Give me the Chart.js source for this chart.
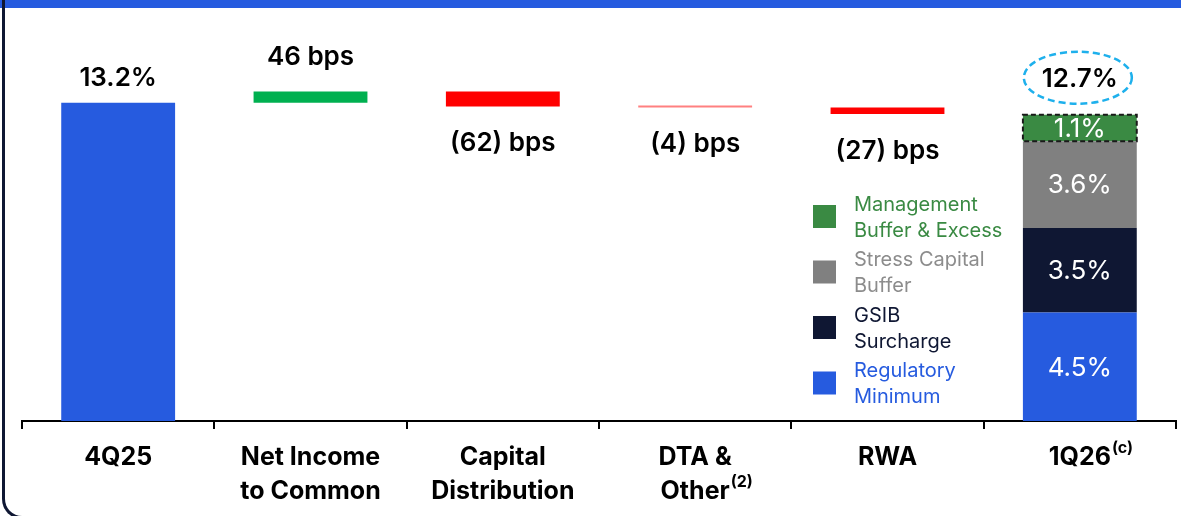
<!DOCTYPE html>
<html>
<head>
<meta charset="utf-8">
<title>CET1 waterfall</title>
<script src="https://cdn.jsdelivr.net/npm/chart.js@4.4.1/dist/chart.umd.min.js"></script>
<style>
    html, body { margin: 0; padding: 0; background: #ffffff; }
    body { width: 1181px; height: 516px; position: relative; overflow: hidden; }
    #banda { position: absolute; left: 0; top: 0; width: 1181px; height: 8px; background: #265BDF; }
    #marco {
        position: absolute; left: 2px; top: 0; width: 1300px; height: 519px;
        border-left: 3px solid #0F1733; border-bottom: 3px solid #0F1733;
        border-bottom-left-radius: 20px; box-sizing: border-box; z-index: 2;
    }
    #grafico { position: absolute; left: 0; top: 0; }
</style>
</head>
<body>
<div id="banda"></div>
<div id="marco"></div>
<canvas id="grafico" width="1181" height="516"></canvas>
<script>
// Datos del gráfico
var categorias = [["4Q25"], ["Net Income", "to Common"], ["Capital", "Distribution"], ["DTA &", "Other"], ["RWA"], ["1Q26"]];
var superindices = ["", "", "", "(2)", "", "(c)"];
var valorInicial = 13.2;
var variaciones = [0.46, -0.62, -0.04, -0.27];
var coloresBarras = ["#265BDF", "#00B050", "#FF0000", "#FF8080", "#FF0000"];

// Componentes de la barra final (de abajo arriba)
var componentes = ["Regulatory Minimum", "GSIB Surcharge", "Stress Capital Buffer", "Management Buffer & Excess"];
var valoresComponentes = [4.5, 3.5, 3.6, 1.1];
var coloresComponentes = ["#265BDF", "#0F1733", "#808080", "#3A8A43"];
var textoLeyenda = [["Regulatory", "Minimum"], ["GSIB", "Surcharge"], ["Stress Capital", "Buffer"], ["Management", "Buffer & Excess"]];
var coloresTextoLeyenda = ["#265BDF", "#0F1733", "#8C8C8C", "#3A8A43"];

var FUENTE = "Inter, 'Liberation Sans', sans-serif";

function redondea(v) {
    return Math.round(v * 100) / 100;
}

// Tramos flotantes de la cascada
var tramos = [[0, valorInicial]];
var nivel = valorInicial;
variaciones.forEach(function (v) {
    var nuevo = redondea(nivel + v);
    tramos.push([Math.min(nivel, nuevo), Math.max(nivel, nuevo)]);
    nivel = nuevo;
});
tramos.push(null);

var datasets = [{
    label: "Cascada",
    data: tramos,
    backgroundColor: coloresBarras,
    minBarLength: 2
}];

var acumulado = 0;
valoresComponentes.forEach(function (v, i) {
    var datos = categorias.map(function () { return null; });
    datos[categorias.length - 1] = [redondea(acumulado), redondea(acumulado + v)];
    acumulado += v;
    datasets.push({
        label: componentes[i],
        data: datos,
        backgroundColor: coloresComponentes[i]
    });
});
var totalFinal = redondea(acumulado);

function textoVariacion(v) {
    var bps = Math.round(Math.abs(v) * 100);
    return v < 0 ? "(" + bps + ") bps" : bps + " bps";
}

var pluginEtiquetas = {
    id: "etiquetas",
    afterDatasetsDraw: function (chart) {
        var ctx = chart.ctx;
        var escalaX = chart.scales.x;
        ctx.save();

        // Borde discontinuo del último componente
        var metaTop = chart.getDatasetMeta(datasets.length - 1);
        var el = metaTop.data[categorias.length - 1];
        var arriba = Math.min(el.y, el.base), abajo = Math.max(el.y, el.base);
        ctx.setLineDash([5, 3]);
        ctx.lineWidth = 2;
        ctx.strokeStyle = "#1a1a1a";
        ctx.strokeRect(el.x - el.width / 2, arriba, el.width, abajo - arriba);
        ctx.setLineDash([]);

        // Etiquetas de la cascada
        ctx.textAlign = "center";
        ctx.textBaseline = "middle";
        ctx.fillStyle = "#000000";
        ctx.font = "600 26px " + FUENTE;
        var meta0 = chart.getDatasetMeta(0);
        meta0.data.forEach(function (b, i) {
            if (!tramos[i]) return;
            var top = Math.min(b.y, b.base), bottom = Math.max(b.y, b.base);
            if (i === 0) {
                ctx.fillText(valorInicial.toFixed(1) + "%", b.x, top - 24);
            } else if (variaciones[i - 1] >= 0) {
                ctx.fillText(textoVariacion(variaciones[i - 1]), b.x, top - 34);
            } else {
                ctx.fillText(textoVariacion(variaciones[i - 1]), b.x, bottom + 37);
            }
        });

        // Total final con elipse
        var tx = el.x - 2, ty = arriba - 37;
        ctx.fillText(totalFinal.toFixed(1) + "%", el.x, ty + 1);
        ctx.beginPath();
        ctx.ellipse(tx, ty, 54, 26, 0, 0, Math.PI * 2);
        ctx.setLineDash([7, 4]);
        ctx.lineWidth = 2.5;
        ctx.strokeStyle = "#1EB0EC";
        ctx.stroke();
        ctx.setLineDash([]);

        // Valores de los componentes
        ctx.fillStyle = "#ffffff";
        ctx.font = "400 26px " + FUENTE;
        for (var d = 1; d < datasets.length; d++) {
            var s = chart.getDatasetMeta(d).data[categorias.length - 1];
            ctx.fillText(valoresComponentes[d - 1].toFixed(1) + "%", s.x, (s.y + s.base) / 2 + 1);
        }

        // Leyenda
        ctx.textAlign = "left";
        ctx.font = "400 20px " + FUENTE;
        var lx = 813, ly = 216.5;
        for (var k = componentes.length - 1; k >= 0; k--) {
            ctx.fillStyle = coloresComponentes[k];
            ctx.fillRect(lx, ly - 11.5, 23, 23);
            ctx.fillStyle = coloresTextoLeyenda[k];
            ctx.fillText(textoLeyenda[k][0], lx + 41, ly - 12);
            ctx.fillText(textoLeyenda[k][1], lx + 41, ly + 14);
            ly += 55.5;
        }

        // Etiquetas de categoría con superíndices
        ctx.fillStyle = "#000000";
        categorias.forEach(function (lineas, i) {
            var cx = escalaX.getPixelForValue(i);
            lineas.forEach(function (texto, j) {
                var y = escalaX.top + 36 + j * 34;
                ctx.font = "700 25px " + FUENTE;
                ctx.textAlign = "center";
                ctx.fillText(texto, cx, y);
                if (j === lineas.length - 1 && superindices[i]) {
                    var w = ctx.measureText(texto).width;
                    ctx.font = "700 16px " + FUENTE;
                    ctx.textAlign = "left";
                    ctx.fillText(superindices[i], cx + w / 2 + 1, y - 9);
                }
            });
        });
        ctx.restore();
    }
};

var config = {
    type: "bar",
    data: {
        labels: categorias.map(function (c) { return c.join(" "); }),
        datasets: datasets
    },
    options: {
        responsive: false,
        animation: false,
        grouped: false,
        categoryPercentage: 1,
        barPercentage: 0.592,
        layout: { padding: { left: 22, right: 5, top: 11, bottom: 87 } },
        plugins: {
            legend: { display: false },
            tooltip: { enabled: false }
        },
        scales: {
            x: {
                ticks: { display: false },
                grid: {
                    display: true,
                    drawOnChartArea: false,
                    drawTicks: true,
                    tickLength: 8,
                    color: "#000000",
                    lineWidth: 2,
                    offset: true
                },
                border: { display: true, color: "#000000", width: 2 }
            },
            y: {
                display: false,
                min: 0,
                max: 17
            }
        }
    },
    plugins: [pluginEtiquetas]
};

new Chart(document.getElementById("grafico").getContext("2d"), config);
</script>
</body>
</html>
